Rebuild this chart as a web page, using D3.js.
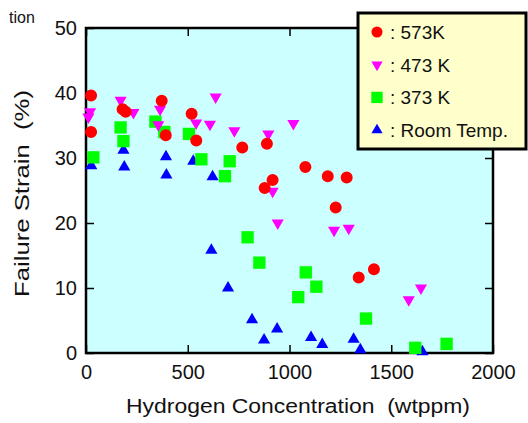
<!DOCTYPE html>
<html lang="en">
  <head>
    <meta charset="UTF-8" />
    <title>Failure Strain vs Hydrogen Concentration</title>
    <script src="https://d3js.org/d3.v7.min.js"></script>
    <style>
      body {
        margin: 0;
        background: #fff;
        font-family: 'Liberation Sans', Arial, sans-serif;
      }
      .axis path {
        display: none;
      }
      .axis line {
        stroke: #000;
        stroke-width: 1.5px;
      }
      .axis text {
        font-size: 20px;
        fill: #111;
      }
    </style>
  </head>
  <body>
    <div id="chart"></div>
    <script>
      // data
      const x573 = [25, 25, 180, 195, 372, 392, 519, 542, 768, 889, 878, 917, 1078, 1188, 1281, 1227, 1340, 1415];
      const y573 = [39.6, 34.0, 37.5, 37.1, 38.8, 33.5, 36.8, 32.7, 31.6, 32.2, 25.4, 26.6, 28.6, 27.2, 27.0, 22.4, 11.6, 12.9];

      const x473 = [20, 12, 170, 233, 364, 355, 541, 609, 637, 729, 896, 1019, 917, 942, 1219, 1291, 1586, 1646];
      const y473 = [37.1, 36.3, 38.9, 37.0, 37.5, 35.1, 35.4, 35.2, 39.4, 34.2, 33.7, 35.3, 24.9, 20.0, 18.9, 19.2, 8.2, 10.0];

      const x373 = [36, 170, 184, 341, 385, 506, 567, 706, 683, 794, 852, 1080, 1132, 1043, 1376, 1618, 1772];
      const y373 = [30.1, 34.7, 32.6, 35.6, 34.0, 33.7, 29.8, 29.5, 27.2, 17.8, 13.9, 12.4, 10.2, 8.6, 5.3, 0.8, 1.4];

      const xRT = [26, 184, 188, 393, 395, 527, 622, 616, 698, 816, 875, 939, 1106, 1161, 1315, 1348, 1653];
      const yRT = [28.8, 31.2, 28.6, 30.2, 27.4, 29.5, 27.1, 15.8, 10.0, 5.1, 2.0, 3.7, 2.4, 1.3, 2.1, 0.5, 0.2];

      const xTicks = [0, 500, 1000, 1500, 2000];
      const yTicks = [0, 10, 20, 30, 40, 50];

      const W = 528,
        H = 423;
      const margin = { top: 28, right: 35, bottom: 70, left: 86 },
        width = 493 - margin.left,
        height = 353 - margin.top;

      const svg = d3
        .select('#chart')
        .append('svg')
        .attr('width', W)
        .attr('height', H);

      const g = svg
        .append('g')
        .attr('transform', `translate(${margin.left},${margin.top})`);

      const x = d3.scaleLinear().domain([0, 2000]).range([0, width]);
      const y = d3.scaleLinear().domain([0, 50]).range([height, 0]);

      // plot background
      g.append('rect')
        .attr('width', width)
        .attr('height', height)
        .attr('fill', '#ccffff');

      // axes, ticks pointing inward on every side
      g.append('g')
        .attr('class', 'axis')
        .attr('transform', `translate(0,${height})`)
        .call(
          d3
            .axisBottom(x)
            .tickValues(xTicks)
            .tickFormat(d3.format('d'))
            .tickSize(-8)
            .tickPadding(12),
        );
      g.append('g')
        .attr('class', 'axis')
        .call(d3.axisTop(x).tickValues(xTicks).tickSize(-8).tickFormat(''));
      g.append('g')
        .attr('class', 'axis')
        .call(d3.axisLeft(y).tickValues(yTicks).tickSize(-8).tickPadding(9));
      g.append('g')
        .attr('class', 'axis')
        .attr('transform', `translate(${width},0)`)
        .call(d3.axisRight(y).tickValues(yTicks).tickSize(-8).tickFormat(''));

      // frame
      g.append('rect')
        .attr('width', width)
        .attr('height', height)
        .attr('fill', 'none')
        .attr('stroke', '#000')
        .attr('stroke-width', 2.5);

      // series, drawn back to front
      const series = [
        { xs: xRT, ys: yRT, label: ': Room Temp.', color: '#0000ff', type: d3.symbolTriangle, size: 64, rot: 0 },
        { xs: x373, ys: y373, label: ': 373 K', color: '#00ff00', type: d3.symbolSquare, size: 152, rot: 0 },
        { xs: x473, ys: y473, label: ': 473 K', color: '#ff00ff', type: d3.symbolTriangle, size: 64, rot: 180 },
        { xs: x573, ys: y573, label: ': 573K', color: '#ff0000', type: d3.symbolCircle, size: 113, rot: 0 },
      ];

      series.forEach((s) => {
        const sym = d3.symbol().type(s.type).size(s.size);
        g.append('g')
          .selectAll('path')
          .data(s.xs.map((v, i) => [v, s.ys[i]]))
          .enter()
          .append('path')
          .attr('d', sym)
          .attr('fill', s.color)
          .attr(
            'transform',
            (d) => `translate(${x(d[0])},${y(d[1])}) rotate(${s.rot})`,
          );
      });

      // axis titles
      svg
        .append('text')
        .attr('x', 126)
        .attr('y', 413)
        .attr('font-size', 20)
        .attr('fill', '#111')
        .attr('textLength', 344)
        .attr('lengthAdjust', 'spacingAndGlyphs')
        .style('white-space', 'pre')
        .text('Hydrogen Concentration  (wtppm)');

      svg
        .append('text')
        .attr('transform', 'translate(29,297) rotate(-90)')
        .attr('font-size', 20)
        .attr('fill', '#111')
        .attr('textLength', 207)
        .attr('lengthAdjust', 'spacingAndGlyphs')
        .style('white-space', 'pre')
        .text('Failure Strain  (%)');

      // leftover caption fragment at top left
      svg
        .append('text')
        .attr('x', 9)
        .attr('y', 23)
        .attr('font-size', 16)
        .attr('fill', '#111')
        .text('tion');

      // legend
      const legend = svg.append('g');
      legend
        .append('rect')
        .attr('x', 358)
        .attr('y', 13)
        .attr('width', 168)
        .attr('height', 136)
        .attr('fill', '#ffffcc')
        .attr('stroke', '#000')
        .attr('stroke-width', 3);

      const order = [3, 2, 1, 0];
      order.forEach((k, i) => {
        const s = series[k];
        const cy = 32 + i * 32.7;
        legend
          .append('path')
          .attr('d', d3.symbol().type(s.type).size(s.size * 0.85))
          .attr('fill', s.color)
          .attr('transform', `translate(377,${cy}) rotate(${s.rot})`);
        legend
          .append('text')
          .attr('x', 390)
          .attr('y', cy + 7)
          .attr('font-size', 19)
          .attr('fill', '#111')
          .text(s.label);
      });
    </script>
  </body>
</html>
